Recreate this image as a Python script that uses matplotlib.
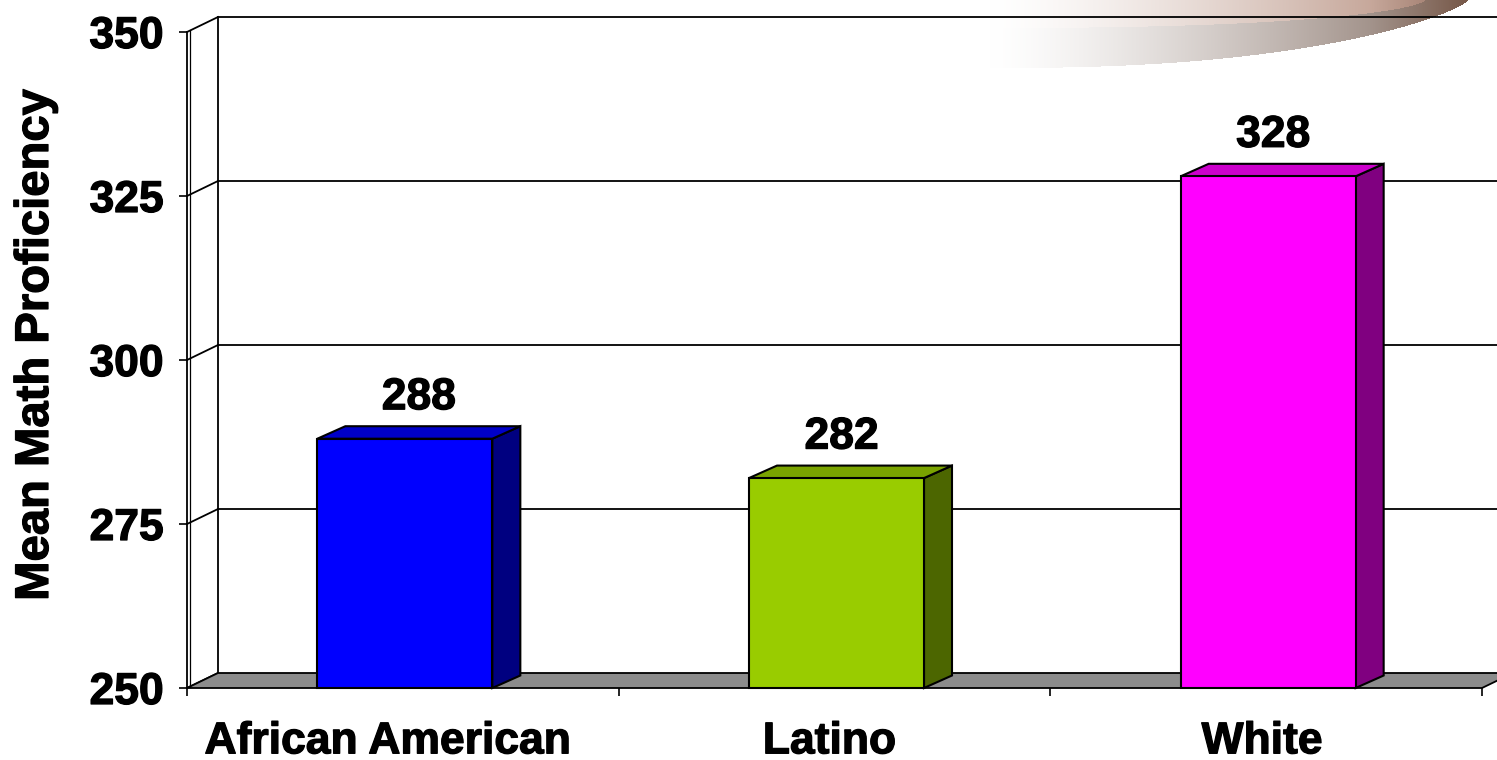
import numpy as np
import matplotlib
matplotlib.use("Agg")
import matplotlib.pyplot as plt
from matplotlib.patches import Polygon
import matplotlib.patheffects as pe
from matplotlib.transforms import ScaledTranslation

# ---- data ----
categories = ["African American", "Latino", "White"]
values = [288, 282, 328]
y_ticks = [250, 275, 300, 325, 350]
front_colors = ["#0000FF", "#99CC00", "#FF00FF"]
side_colors = ["#000080", "#4C6600", "#800080"]
top_colors = ["#0000C8", "#7AA300", "#CC00CC"]

W, H = 1497, 760
DPI = 100
plt.rcParams['font.family'] = ['Liberation Sans', 'DejaVu Sans']
plt.rcParams['font.weight'] = 'bold'
bold_fx = [pe.withStroke(linewidth=0.9, foreground='black')]

fig = plt.figure(figsize=(W / DPI, H / DPI), dpi=DPI)

# ---- decorative swoosh (background, pixel coords) ----
bg = fig.add_axes([0, 0, 1, 1], zorder=0)
bg.axis('off')
x0, x1 = 960, 1497
ny, nx = 80, x1 - x0
xs = np.arange(x0, x1) + 0.5
ys = np.arange(0, ny) + 0.5
XX, YY = np.meshgrid(xs, ys)


def outer_edge(x):
    t = np.clip((x - 1000) / (1468 - 1000), 0, 1)
    return 68 * np.clip(1 - t ** 2.3, 0, 1) ** 0.75


def inner_edge(x):
    t = np.clip((x - 980) / (1425 - 980), 0, 1)
    return 28 * np.clip(1 - t ** 2.5, 0, 1) ** 0.6


img = np.ones((ny, nx, 4))
tt = np.clip((XX - 990) / (1465 - 990), 0, 1)
outer = YY < outer_edge(XX)
inner = YY < inner_edge(XX)
c_out_end = np.array([0.47, 0.35, 0.29])
c_out_mid = np.array([0.64, 0.58, 0.55])
c_in_end = np.array([0.58, 0.43, 0.37])
c_in_mid = np.array([0.78, 0.66, 0.61])
w = tt[..., None]
col_out = np.where(w < 0.8, 1 - (1 - c_out_mid) * (w / 0.8) ** 1.4,
                   c_out_mid + (c_out_end - c_out_mid) * ((w - 0.8) / 0.2))
col_in = np.where(w < 0.8, 1 - (1 - c_in_mid) * (w / 0.8) ** 1.4,
                  c_in_mid + (c_in_end - c_in_mid) * ((w - 0.8) / 0.2))
img[..., :3] = np.where(inner[..., None], col_in, col_out)
img[..., 3] = np.where(outer, 1.0, 0.0)
bg.imshow(img, extent=(x0, x1, ny, 0), interpolation='bilinear', aspect='auto')
bg.set_xlim(0, W)
bg.set_ylim(H, 0)

# ---- chart axes: front plane ----
left_px, right_px, bot_px, top_px = 187, 1482, 688, 32
ax = fig.add_axes([left_px / W, 1 - bot_px / H, (right_px - left_px) / W, (bot_px - top_px) / H], zorder=2)
ax.patch.set_alpha(0)
n = len(categories)
ax.set_xlim(-0.5, n - 0.5)
ax.set_ylim(y_ticks[0], y_ticks[-1])
for s in ax.spines.values():
    s.set_visible(False)

sx = n / (right_px - left_px)
sy = (y_ticks[-1] - y_ticks[0]) / (bot_px - top_px)
DX, DY = 31 * sx, 15 * sy        # wall depth
BDX, BDY = 28 * sx, 12.5 * sy    # bar depth
BW = 175 * sx
xl, xr = -0.5, n - 0.5
ymin, ymax = y_ticks[0], y_ticks[-1]
lk = dict(color='black', lw=1.3, clip_on=False)

for v in y_ticks[1:]:
    ax.plot([xl + DX, xr + DX], [v + DY, v + DY], zorder=1, **lk)
for v in y_ticks:
    ax.plot([xl, xl + DX], [v, v + DY], zorder=1, **lk)
ax.plot([xl + DX, xl + DX], [ymin + DY, ymax + DY], zorder=1, **lk)
ax.plot([xl, xl], [ymin, ymax], color='black', lw=1.3, clip_on=False, zorder=3)
ax.plot([xl + 3 * sx, xl + 3 * sx], [ymin + 1.5 * sy, ymax + 1.5 * sy], color='black', lw=0.9,
        clip_on=False, zorder=3)

floor = Polygon([(xl, ymin), (xr, ymin), (xr + DX, ymin + DY), (xl + DX, ymin + DY)],
                closed=True, facecolor='#8C8C8C', edgecolor='black', lw=1.3, clip_on=False, zorder=2)
ax.add_patch(floor)

xpos = np.arange(n) + 2 * sx
ax.bar(xpos, np.array(values) - ymin, bottom=ymin, width=BW, color=front_colors,
       edgecolor='black', linewidth=1.5, zorder=5, clip_on=False)
label_dx = [14, 5, 5]
for i, v in enumerate(values):
    xr_b = xpos[i] + BW / 2
    xl_b = xpos[i] - BW / 2
    side = Polygon([(xr_b, ymin), (xr_b + BDX, ymin + BDY), (xr_b + BDX, v + BDY), (xr_b, v)],
                   closed=True, facecolor=side_colors[i], edgecolor='black', lw=1.5, zorder=4, clip_on=False)
    top = Polygon([(xl_b, v), (xr_b, v), (xr_b + BDX, v + BDY), (xl_b + BDX, v + BDY)],
                  closed=True, facecolor=top_colors[i], edgecolor='black', lw=1.5, zorder=4, clip_on=False)
    ax.add_patch(side)
    ax.add_patch(top)
    ax.annotate(str(v), xy=(xpos[i], v + BDY), xytext=(label_dx[i], 17), textcoords='offset pixels',
                ha='center', va='baseline', fontsize=32, fontweight='bold', zorder=6,
                path_effects=bold_fx)

ax.set_yticks(y_ticks)
ax.set_yticklabels([str(t) for t in y_ticks], fontsize=32, fontweight='bold')
ax.tick_params(axis='y', direction='out', length=5.8, width=1.2, pad=11)
ax.set_xticks(np.arange(n))
ax.set_xticklabels(categories, fontsize=32, fontweight='bold')
ax.tick_params(axis='x', which='major', length=0, pad=24)
ax.set_xticks(np.arange(n + 1) - 0.5, minor=True)
ax.tick_params(axis='x', which='minor', direction='out', length=5.8, width=1.2)
for lab in ax.get_yticklabels() + ax.get_xticklabels():
    lab.set_path_effects(bold_fx)
xshift_px = [-15, -5, -4]
for lab, d in zip(ax.get_xticklabels(), xshift_px):
    lab.set_transform(lab.get_transform() + ScaledTranslation(d / DPI, 0, fig.dpi_scale_trans))

fig.text(36 / W, 1 - 345 / H, "Mean Math Proficiency", rotation=90, ha='center', va='center',
         fontsize=34, fontweight='bold', path_effects=bold_fx)

fig.savefig("out.png", dpi=DPI)
